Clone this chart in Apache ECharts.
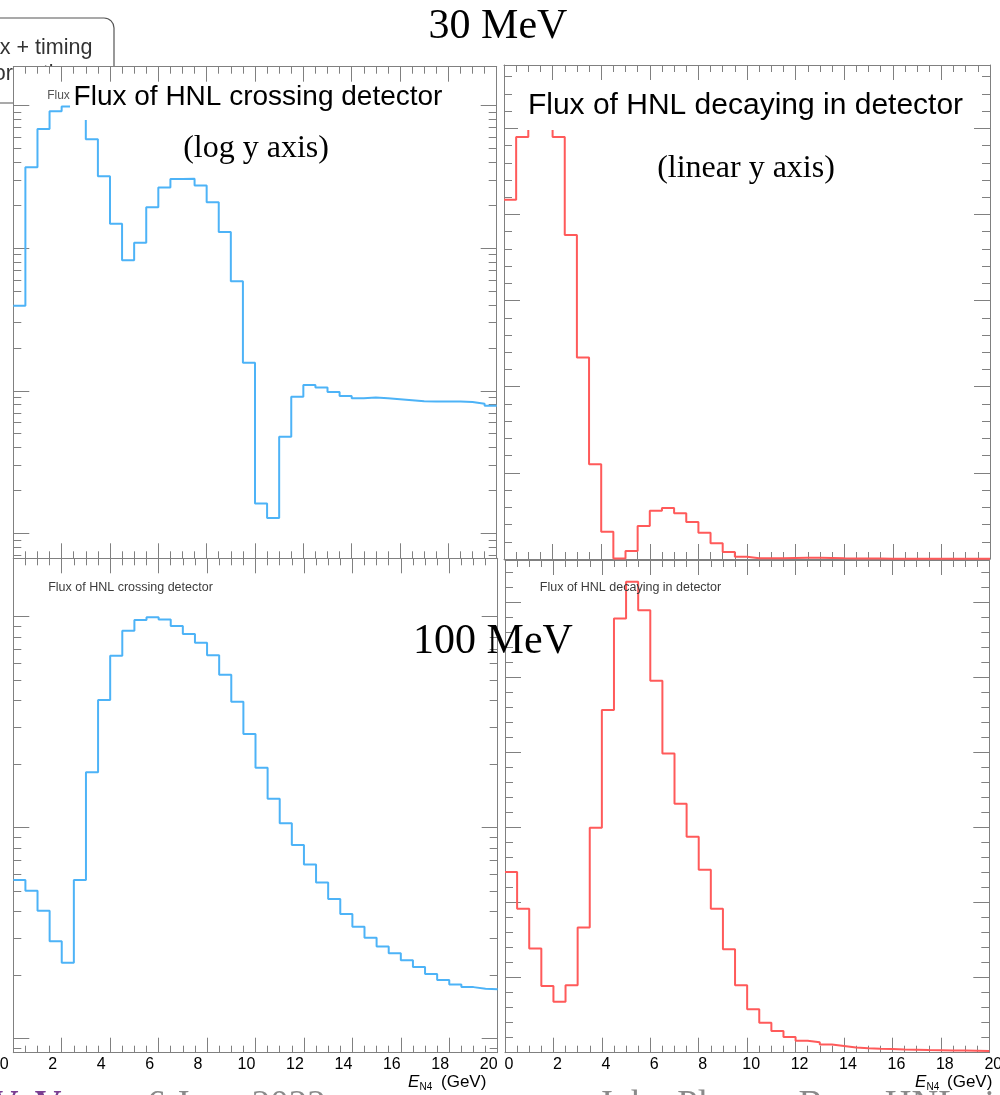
<!DOCTYPE html>
<html>
<head>
<meta charset="utf-8">
<title>HNL flux</title>
<script src="https://cdn.jsdelivr.net/npm/echarts@6.0.0/dist/echarts.min.js"></script>
<style>
  html, body { margin: 0; padding: 0; background: #fff; }
  #chart { width: 1000px; height: 1095px; }
</style>
</head>
<body>
<div id="chart"></div>
<script>
// 40 bins of 0.5 GeV between 0 and 20 GeV
var binEdges = []
for (var i = 0; i <= 40; i++) binEdges.push(i * 0.5)

// 30 MeV, flux of HNL crossing detector (log y, arbitrary units)
var crossing30 = [39.5, 369, 686, 912, 984, 1020, 580, 319, 148.6, 82.2,
  109.3, 193.5, 266, 306, 307, 275, 210, 130, 58.6, 15.7,
  1.62, 1.28, 4.76, 9.09, 10.97, 10.52, 9.80, 9.19, 8.85, 8.95,
  8.85, 8.71, 8.57, 8.43, 8.39, 8.39, 8.39, 8.35, 8.12, 7.86]
// 30 MeV, flux of HNL decaying in detector (linear y)
var decay30 = [4.17, 4.90, 5.30, 5.20, 4.90, 3.76, 2.34, 1.10, 0.317, 0.005,
  0.093, 0.383, 0.561, 0.592, 0.530, 0.430, 0.306, 0.182, 0.081, 0.027,
  0.010, 0.008, 0.008, 0.012, 0.014, 0.014, 0.012, 0.008, 0.006, 0.005,
  0.005, 0.004, 0.004, 0.004, 0.003, 0.003, 0.003, 0.003, 0.003, 0.003]
// 100 MeV, crossing (log y)
var crossing100 = [5.64, 5.02, 4.03, 2.89, 2.285, 5.64, 18.27, 40.3, 65.3, 85.8,
  96.4, 99.3, 97.0, 90.3, 82.7, 75.3, 65.6, 53.1, 39.5, 27.8,
  19.2, 13.7, 10.47, 8.26, 6.68, 5.49, 4.58, 3.89, 3.38, 3.00,
  2.73, 2.53, 2.35, 2.18, 2.02, 1.89, 1.80, 1.75, 1.72, 1.71]
// 100 MeV, decaying (linear y)
var decay100 = [2.41, 1.92, 1.39, 0.89, 0.68, 0.90, 1.67, 3.00, 4.57, 5.79,
  6.28, 5.90, 4.96, 3.99, 3.32, 2.88, 2.44, 1.92, 1.38, 0.90,
  0.58, 0.40, 0.29, 0.21, 0.16, 0.14, 0.11, 0.09, 0.07, 0.06,
  0.053, 0.049, 0.044, 0.040, 0.036, 0.033, 0.030, 0.028, 0.026, 0.024]

// y tick positions
var logMajor = [0.1, 1, 10, 100, 1000]
var logMinor = []
logMajor.slice(0, 4).forEach(function (d) {
  for (var k = 2; k <= 9; k++) logMinor.push(+(d * k).toPrecision(3))
})
var linMajor = [0, 1, 2, 3, 4, 5, 6]
var linMinor = []
for (var j = 1; j <= 34; j++) { if (j % 5) linMinor.push(+(j * 0.2).toFixed(1)) }

var FRAME = '#808080'
var BLUE = '#4db3f7'
var RED = '#ff5a5a'
var SANS = '"Liberation Sans", Arial, sans-serif'
var SERIF = '"Liberation Serif", "DejaVu Serif", serif'

var panels = [
  { box: { left: 13.3, top: 66.7, width: 483.4, height: 491.6 }, log: true, min: 0.668, max: 1875, data: crossing30, color: BLUE, labels: false },
  { box: { left: 504, top: 65, width: 486, height: 494 }, log: false, min: 0, max: 5.735, data: decay30, color: RED, labels: false },
  { box: { left: 13.3, top: 558.3, width: 484.4, height: 494.4 }, log: true, min: 0.855, max: 189.3, data: crossing100, color: BLUE, labels: true, labelPad: [0, 18, 0, 0] },
  { box: { left: 505, top: 560, width: 484.3, height: 492.7 }, log: false, min: 0, max: 6.57, data: decay100, color: RED, labels: true, labelPad: [0, 0, 0, 8] }
]

function steps (values) {
  return binEdges.map(function (e, i) { return [e, values[Math.min(i, values.length - 1)]] })
}

var grids = []
var xAxes = []
var yAxes = []
var series = []

panels.forEach(function (p, gi) {
  grids.push(Object.assign({
    show: gi === 0, backgroundColor: '#fff', borderWidth: 0,
    containLabel: false, outerBoundsMode: 'none'
  }, p.box))
  ;['bottom', 'top'].forEach(function (pos) {
    xAxes.push({
      gridIndex: gi, type: 'value', position: pos, min: 0, max: 20, interval: 2,
      axisLine: { show: true, onZero: false, lineStyle: { color: FRAME, width: 1 } },
      axisTick: { show: true, inside: true, length: 15, lineStyle: { color: FRAME } },
      minorTick: { show: true, splitNumber: 4, length: 7, lineStyle: { color: FRAME } },
      axisLabel: {
        show: p.labels && pos === 'bottom', color: '#000', fontSize: 16, fontFamily: SANS,
        margin: 4, padding: p.labelPad || 0, showMinLabel: true, showMaxLabel: true
      },
      splitLine: { show: false }
    })
  })
  ;['left', 'right'].forEach(function (side) {
    [false, true].forEach(function (minor) {
      yAxes.push({
        gridIndex: gi, type: p.log ? 'log' : 'value', logBase: 10, position: side,
        min: p.min, max: p.max,
        axisLine: { show: !minor, onZero: false, lineStyle: { color: FRAME, width: 1 } },
        axisTick: {
          show: true, inside: true, length: minor ? 8 : 16,
          customValues: p.log ? (minor ? logMinor : logMajor) : (minor ? linMinor : linMajor),
          lineStyle: { color: FRAME }
        },
        axisLabel: { show: false },
        splitLine: { show: false },
        minorTick: { show: false }
      })
    })
  })
  series.push({
    type: 'line', step: 'end', xAxisIndex: gi * 2, yAxisIndex: gi * 4,
    data: steps(p.data), symbol: 'none', clip: true,
    lineStyle: { color: p.color, width: 2 }
  })
})

function txt (x, y, text, font, fill, align, z, extra) {
  return Object.assign({
    type: 'text', x: x, y: y, z: z || 12,
    style: { text: text, font: font, fill: fill, align: align || 'center', verticalAlign: 'middle' }
  }, extra || {})
}

var graphics = [
  // slide box behind the top-left plot
  { type: 'rect', z: -1, shape: { x: -30, y: 18, width: 144, height: 85, r: 10 },
    style: { fill: '#fff', stroke: '#555', lineWidth: 1.2 } },
  txt(-30, 48, 'Flux + timing', '21.5px ' + SANS, '#333', 'left', -1),
  txt(-29, 74, 'information', '21.5px ' + SANS, '#333', 'left', -1),
  // ROOT title boxes
  { type: 'rect', z: 10, shape: { x: 70, y: 83, width: 375, height: 37 }, style: { fill: '#fff' } },
  { type: 'rect', z: 10, shape: { x: 518, y: 81, width: 454, height: 49 }, style: { fill: '#fff' } },
  txt(258, 97, 'Flux of HNL crossing detector', '28px ' + SANS, '#000'),
  txt(745.5, 106, 'Flux of HNL decaying in detector', '30px ' + SANS, '#000'),
  txt(58.5, 96, 'Flux', '12px ' + SANS, '#555'),
  txt(130.5, 587.5, 'Flux of HNL crossing detector', '12.5px ' + SANS, '#3c3c3c'),
  txt(630.5, 587.5, 'Flux of HNL decaying in detector', '12.5px ' + SANS, '#3c3c3c'),
  // slide annotations
  txt(498, 27, '30 MeV', '42px ' + SERIF, '#000', 'center', 14),
  txt(256, 149, '(log y axis)', '32px ' + SERIF, '#000', 'center', 14),
  txt(746, 169, '(linear y axis)', '32px ' + SERIF, '#000', 'center', 14),
  txt(493, 642, '100 MeV', '42px ' + SERIF, '#000', 'center', 14),
  // x axis titles
  txt(408, 1082, 'E', 'italic 17px ' + SANS, '#000', 'left'),
  txt(419.5, 1087, 'N4', '10px ' + SANS, '#000', 'left'),
  txt(441, 1082, '(GeV)', '17px ' + SANS, '#000', 'left'),
  // slide footer, cut by the page edge
  txt(5, 1106, 'V', 'bold 37px ' + SERIF, '#7a3e92', 'center', 11),
  txt(48, 1106, 'V', 'bold 37px ' + SERIF, '#7a3e92', 'center', 11),
  txt(147, 1106, '6 June 2022', '37px ' + SERIF, '#8a8a8a', 'left', 11),
  txt(598, 1106, 'John Plows - BeamHNL simulation', '37px ' + SERIF, '#8a8a8a', 'left', 11),
  txt(915, 1082, 'E', 'italic 17px ' + SANS, '#000', 'left', 13),
  txt(926.5, 1087, 'N4', '10px ' + SANS, '#000', 'left', 13),
  txt(947, 1082, '(GeV)', '17px ' + SANS, '#000', 'left', 13)
]

var myChart = echarts.init(document.getElementById('chart'), null, { renderer: 'canvas' })
myChart.setOption({
  animation: false,
  backgroundColor: '#fff',
  grid: grids,
  xAxis: xAxes,
  yAxis: yAxes,
  series: series,
  graphic: { elements: graphics }
})
</script>
</body>
</html>
